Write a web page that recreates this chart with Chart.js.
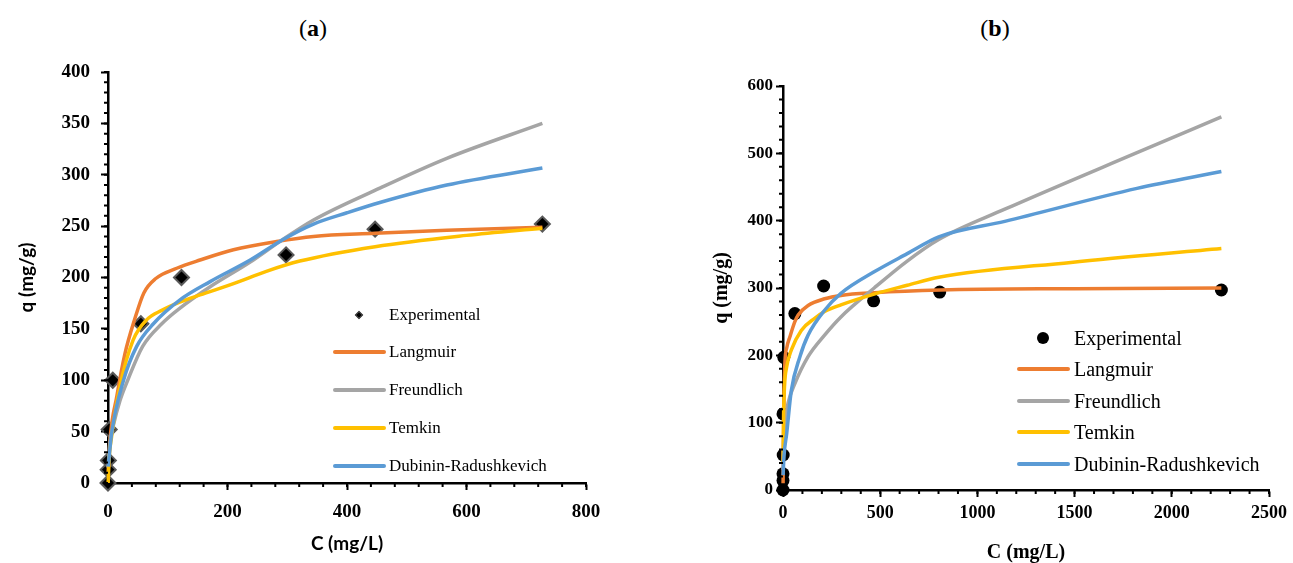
<!DOCTYPE html>
<html><head><meta charset="utf-8">
<script src="https://cdn.jsdelivr.net/npm/chart.js@4.4.0/dist/chart.umd.min.js"></script>
<style>
html,body{margin:0;padding:0;background:#fff;overflow:hidden;width:1293px;height:563px;position:relative;}
#wrapA{position:absolute;left:0;top:0;width:640px;height:563px;}
#wrapB{position:absolute;left:650px;top:0;width:643px;height:580px;}
.ptitle{position:absolute;top:13px;font-family:'Liberation Serif',serif;font-size:24px;line-height:30px;transform:translateX(-50%);color:#000;}
.leg{position:absolute;font-family:'Liberation Serif',serif;color:#000;white-space:nowrap;}
.sw{position:absolute;height:3.5px;border-radius:2px;}
</style></head><body>
<div class="ptitle" style="left:313px;">(<b>a</b>)</div>
<div class="ptitle" style="left:995px;">(<b>b</b>)</div>
<div id="wrapA"><canvas id="ca" width="640" height="563"></canvas></div>
<div id="wrapB"><canvas id="cb" width="643" height="580"></canvas></div>
<div id="legA"></div><div id="legB"></div>
<script>
// ---------- Panel (a) ----------
const aExpC = [0, 0.3, 0.6, 2, 8, 55, 123, 298, 447, 727];
const aExpQ = [0, 13, 22, 52, 100, 155, 200, 222, 247, 252];
const aLangC = [0.3, 3, 15, 28, 45, 60, 80, 115, 154, 210, 282, 344, 447, 567, 727];
const aLangQ = [10, 40, 85, 125, 160, 185, 199, 209, 217, 227, 235, 240, 243, 246, 249];
const aFreC = [0.3, 3, 9, 20, 33, 58, 90, 120, 171, 238, 290, 344, 455, 567, 727];
const aFreQ = [15, 38, 56, 80, 100, 133, 155, 170, 191, 215, 236, 256, 287, 316, 350];
const aTemC = [0.3, 1.5, 6, 20, 42, 65, 90, 120, 154, 210, 265, 321, 447, 600, 727];
const aTemQ = [0, 20, 45, 94, 139, 159, 168, 176, 183, 194, 206, 216, 230, 241, 248];
const aDRC = [0.3, 6, 26, 48, 76, 120, 171, 238, 293, 344, 400, 455, 567, 727];
const aDRQ = [16, 48, 100, 133, 155, 178, 196, 217, 237, 252, 263, 273, 290, 306.5];
const aXTicks = [0, 200, 400, 600, 800];
const aYTicks = [0, 50, 100, 150, 200, 250, 300, 350, 400];

// ---------- Panel (b) ----------
const bExpC = [0, 0, 0, 1, 0, 4, 61, 209, 466, 806, 2255];
const bExpQ = [0, 14, 24, 52, 113, 197, 262, 303, 281, 294, 297];
const bLangC = [0.5, 2, 5, 10, 20, 36, 61, 78, 129, 214, 298, 469, 810, 1500, 2255];
const bLangQ = [10, 60, 140, 190, 212, 228, 250, 260, 274, 284, 289, 293, 297, 299, 300];
const bFreC = [0.5, 3, 10, 27, 61, 129, 214, 298, 469, 639, 801, 1141, 1821, 2255];
const bFreQ = [30, 70, 100, 130, 158, 198, 230, 257, 300, 340, 372, 417, 501, 554];
const bTemC = [0.5, 3, 8, 19, 43, 94, 163, 214, 298, 469, 639, 801, 1481, 2255];
const bTemQ = [40, 110, 155, 183, 208, 237, 255, 265, 275, 291, 304, 316, 338, 358.6];
const bDRC = [0.5, 5, 19, 43, 87, 129, 214, 298, 469, 639, 801, 1141, 1821, 2255];
const bDRQ = [22, 50, 84, 148, 198, 230, 267, 292, 324, 351, 376, 399, 448, 473];
const bXTicks = [0, 500, 1000, 1500, 2000, 2500];
const bYTicks = [0, 100, 200, 300, 400, 500, 600];

const seriesNames = ['Experimental', 'Langmuir', 'Freundlich', 'Temkin', 'Dubinin-Radushkevich'];
const seriesColors = ['#000000', '#ED7D31', '#A5A5A5', '#FFC000', '#5B9BD5'];

const pts = (xs, ys) => xs.map((x, i) => ({x: x, y: ys[i]}));

const minorTicks = {
  id: 'minorTicks',
  afterDraw(chart, args, o) {
    const ctx = chart.ctx, xs = chart.scales.x, ys = chart.scales.y;
    ctx.save();
    ctx.strokeStyle = '#000';
    ctx.lineWidth = 2;
    ctx.beginPath();
    for (let v = xs.min; v <= xs.max + 1e-9; v += o.xStep) {
      const px = xs.getPixelForValue(v);
      ctx.moveTo(px, ys.bottom); ctx.lineTo(px, ys.bottom + o.len);
    }
    for (let v = ys.min; v <= ys.max + 1e-9; v += o.yStep) {
      const py = ys.getPixelForValue(v);
      ctx.moveTo(xs.left, py); ctx.lineTo(xs.left - o.len, py);
    }
    ctx.stroke();
    ctx.restore();
  }
};

function makeChart(id, d) {
  const lineDs = (i, xs, ys) => ({
    label: seriesNames[i], data: pts(xs, ys), borderColor: seriesColors[i], backgroundColor: seriesColors[i],
    borderWidth: 3.5, pointRadius: 0, showLine: true, cubicInterpolationMode: 'monotone', clip: false, order: 5 - i
  });
  return new Chart(document.getElementById(id), {
    type: 'line',
    data: {
      datasets: [
        { label: seriesNames[0], data: pts(d.exp[0], d.exp[1]), showLine: false,
          pointStyle: d.marker, pointRadius: d.mr, backgroundColor: '#000', borderColor: d.mb, borderWidth: d.mbw,
          clip: false, order: 5 },
        lineDs(1, d.lang[0], d.lang[1]),
        lineDs(2, d.fre[0], d.fre[1]),
        lineDs(3, d.tem[0], d.tem[1]),
        lineDs(4, d.dr[0], d.dr[1])
      ]
    },
    options: {
      responsive: false, animation: false, events: [],
      layout: { padding: d.pad },
      plugins: { legend: { display: false }, tooltip: { enabled: false }, title: { display: false },
        minorTicks: { xStep: d.xMinor, yStep: d.yMinor, len: 4 } },
      scales: {
        x: {
          type: 'linear', min: d.xT[0], max: d.xT[d.xT.length - 1],
          afterBuildTicks: s => { s.ticks = d.xT.map(v => ({value: v})); },
          afterFit: s => { s.height = d.xH; },
          grid: { display: true, drawOnChartArea: false, drawTicks: true, tickLength: 7, tickWidth: 2, tickColor: '#000' },
          border: { display: true, color: '#000', width: 2.5 },
          ticks: { color: '#000', font: d.tickFontX, padding: d.xPad, maxRotation: 0, autoSkip: false,
                   callback: v => String(v) },
          title: { display: true, text: 'C (mg/L)', color: '#000', font: d.titleFont, padding: {top: 0, bottom: d.xTitlePad} }
        },
        y: {
          type: 'linear', min: d.yT[0], max: d.yT[d.yT.length - 1],
          afterBuildTicks: s => { s.ticks = d.yT.map(v => ({value: v})); },
          afterFit: s => { s.width = d.yW; },
          grid: { display: true, drawOnChartArea: false, drawTicks: true, tickLength: 7, tickWidth: 2, tickColor: '#000' },
          border: { display: true, color: '#000', width: 2.5 },
          ticks: { color: '#000', font: d.tickFontY, padding: d.yPad, autoSkip: false, callback: v => String(v) },
          title: { display: true, text: 'q (mg/g)', color: '#000', font: d.titleFont, padding: {top: d.yTitlePad, bottom: 0} }
        }
      }
    },
    plugins: [minorTicks]
  });
}

makeChart('ca', {
  exp: [aExpC, aExpQ], lang: [aLangC, aLangQ], fre: [aFreC, aFreQ], tem: [aTemC, aTemQ], dr: [aDRC, aDRQ],
  xT: aXTicks, yT: aYTicks, xMinor: 40, yMinor: 10,
  marker: 'rectRot', mr: 7.5, mb: '#595959', mbw: 2,
  pad: {top: 72, right: 54, bottom: 0, left: 0}, xH: 80, yW: 108,
  tickFontX: {family: 'Liberation Serif', size: 19, weight: 'bold'},
  tickFontY: {family: 'Liberation Serif', size: 19, weight: 'bold'},
  xPad: 11, yPad: 11,
  titleFont: {family: 'Lato', size: 19, weight: 'bold'}, xTitlePad: 8, yTitlePad: 15
});

makeChart('cb', {
  exp: [bExpC, bExpQ], lang: [bLangC, bLangQ], fre: [bFreC, bFreQ], tem: [bTemC, bTemQ], dr: [bDRC, bDRQ],
  xT: bXTicks, yT: bYTicks, xMinor: 100, yMinor: 20,
  marker: 'circle', mr: 6.5, mb: '#000', mbw: 0,
  pad: {top: 86, right: 20, bottom: 0, left: 0}, xH: 90, yW: 133,
  tickFontX: {family: 'Liberation Serif', size: 18, weight: 'bold'},
  tickFontY: {family: 'Liberation Serif', size: 17, weight: 'bold'},
  xPad: 6, yPad: 3,
  titleFont: {family: 'Liberation Serif', size: 20, weight: 'bold'}, xTitlePad: 15, yTitlePad: 60
});

// ---------- legends (HTML) ----------
function legend(el, cfg) {
  const root = document.getElementById(el);
  seriesNames.forEach((name, i) => {
    const y = cfg.ys[i];
    if (i === 0) {
      const m = document.createElement('div');
      m.style.position = 'absolute';
      m.style.width = cfg.ms + 'px'; m.style.height = cfg.ms + 'px';
      m.style.left = (cfg.mx - cfg.ms / 2) + 'px'; m.style.top = (y - cfg.ms / 2) + 'px';
      m.style.background = '#000';
      if (cfg.diamond) {
        m.style.border = '1px solid #595959'; m.style.boxSizing = 'border-box';
        m.style.transform = 'rotate(45deg)';
      } else {
        m.style.borderRadius = '50%';
      }
      root.appendChild(m);
    } else {
      const s = document.createElement('div');
      s.className = 'sw';
      s.style.background = seriesColors[i];
      s.style.left = cfg.lx0 + 'px'; s.style.width = (cfg.lx1 - cfg.lx0) + 'px';
      s.style.top = (y - 1.75) + 'px';
      root.appendChild(s);
    }
    const t = document.createElement('div');
    t.className = 'leg';
    t.textContent = name;
    t.style.fontSize = cfg.fs + 'px';
    t.style.lineHeight = (cfg.fs * 1.2) + 'px';
    t.style.left = cfg.tx + 'px';
    t.style.top = (y - cfg.fs * 0.6) + 'px';
    root.appendChild(t);
  });
}
legend('legA', {ys: [315, 352, 390, 428, 466], mx: 359, ms: 6, diamond: true, lx0: 333, lx1: 386, tx: 389, fs: 17});
legend('legB', {ys: [338, 369, 401, 432, 464], mx: 1043, ms: 12, diamond: false, lx0: 1017, lx1: 1070, tx: 1074, fs: 20});
</script>
</body></html>
